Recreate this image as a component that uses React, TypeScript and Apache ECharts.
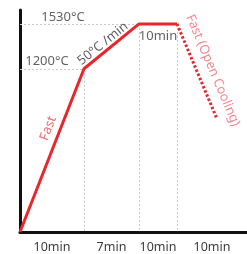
import React, { useEffect, useRef } from "react";
import * as echarts from "echarts";

// Stage boundaries along the (schematic) time axis, in diagram units
const stageX = [0, 64, 119, 157, 227];
const stageLabels = ["10min", "7min", "10min", "10min"];

// Temperature profile (°C)
const heatX = [0, 64, 119, 157];
const heatT = [0, 1200, 1530, 1530];
const coolX = [157, 197];
const coolT = [1530, 831];

// Annotations: [x, y, text, rotate, color]
const annotations: [number, number, string, number, string][] = [
  [43, 1590, "1530°C", 0, "#3a3a3a"],
  [27, 1266, "1200°C", 0, "#3a3a3a"],
  [82, 1392, "50°C /min", 38.7, "#3a3a3a"],
  [138, 1450, "10min", 0, "#3a3a3a"],
  [27, 765, "Fast", 68.7, "#e8454b"],
  [194, 1191, "Fast (Open Cooling)", -67, "#f16874"],
];

const FONT = "'Noto Sans', 'Open Sans', sans-serif";

export default function App() {
  const ref = useRef<HTMLDivElement>(null);
  useEffect(() => {
    if (!ref.current) return;
    const chart = echarts.init(ref.current, null, { renderer: "svg" });
    const mids = stageLabels.map((_, i) => (stageX[i] + stageX[i + 1]) / 2);
    const guide = { color: "#c9c9c9", width: 1, type: [2, 2] as number[] };
    const markData: any[] = [
      [{ coord: [stageX[0], heatT[2]] }, { coord: [heatX[2], heatT[2]] }],
      [{ coord: [stageX[0], heatT[1]] }, { coord: [heatX[1], heatT[1]] }],
      [{ coord: [heatX[1], heatT[1]] }, { coord: [heatX[1], 0] }],
      [{ coord: [heatX[2], heatT[2]] }, { coord: [heatX[2], 0] }],
      [{ coord: [heatX[3], heatT[3]] }, { coord: [heatX[3], 0] }],
    ];
    chart.setOption({
      animation: false,
      grid: { left: 20, right: 0, top: 10, bottom: 22, containLabel: false },
      xAxis: {
        type: "value",
        min: stageX[0],
        max: stageX[stageX.length - 1],
        axisLine: { show: true, onZero: false, lineStyle: { color: "#111", width: 3 } },
        axisTick: { show: false },
        splitLine: { show: false },
        axisLabel: {
          customValues: mids,
          formatter: (v: number) => {
            const i = mids.findIndex((m) => Math.abs(m - v) < 0.01);
            return i >= 0 ? stageLabels[i] : "";
          },
          color: "#3a3a3a",
          fontSize: 12.5,
          lineHeight: 13,
          fontFamily: FONT,
          margin: 8,
        },
      },
      yAxis: {
        type: "value",
        min: 0,
        max: 1632,
        axisLine: { show: true, lineStyle: { color: "#111", width: 3 } },
        axisTick: { show: false },
        axisLabel: { show: false },
        splitLine: { show: false },
      },
      series: [
        {
          type: "line",
          data: heatX.map((x, i) => [x, heatT[i]]),
          symbol: "none",
          lineStyle: { color: "#e8262c", width: 3 },
          z: 3,
          markLine: {
            silent: true,
            symbol: "none",
            label: { show: false },
            lineStyle: guide,
            data: markData,
            z: 1,
          },
        },
        {
          type: "line",
          data: coolX.map((x, i) => [x, coolT[i]]),
          symbol: "none",
          lineStyle: { color: "#e8262c", width: 3, type: [2.5, 2] },
          z: 3,
        },
        {
          type: "scatter",
          symbolSize: 0,
          silent: true,
          z: 4,
          data: annotations.map((a) => ({
            value: [a[0], a[1]],
            label: {
              show: true,
              position: "inside",
              rotate: a[3],
              color: a[4],
              fontSize: 13,
              fontFamily: FONT,
              formatter: a[2],
            },
          })),
        },
      ],
    });
    return () => chart.dispose();
  }, []);
  return (
    <div
      ref={ref}
      style={{ position: "fixed", left: 0, top: 0, width: 247, height: 254 }}
    />
  );
}
